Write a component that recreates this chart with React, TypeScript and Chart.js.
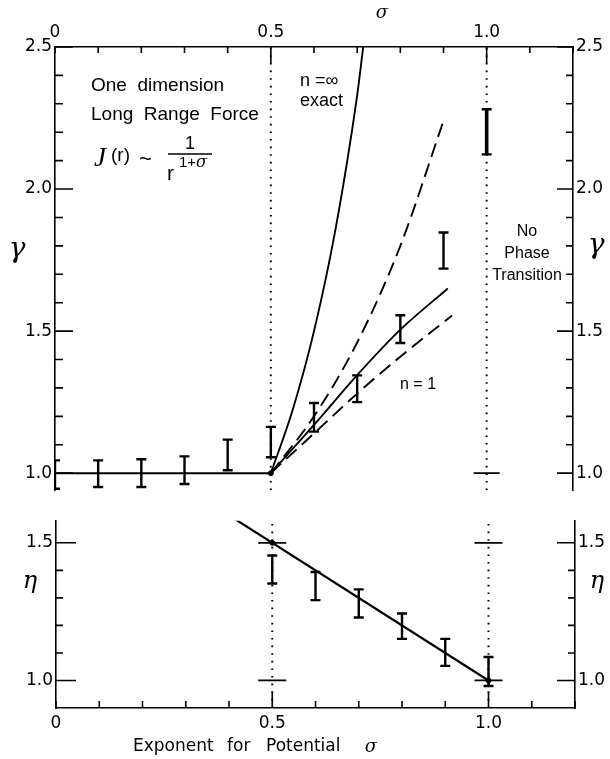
import React, { useEffect, useRef } from 'react';
import { Chart, registerables } from 'chart.js';

Chart.register(...registerables);

// ---------- axis ticks ----------
const SIGMA_TICKS = [0, 0.1, 0.2, 0.3, 0.4, 0.5, 0.6, 0.7, 0.8, 0.9, 1.0, 1.1, 1.2];
const SIGMA_LABELED = [0, 0.5, 1.0];
const GAMMA_TICKS = [1.0, 1.1, 1.2, 1.3, 1.4, 1.5, 1.6, 1.7, 1.8, 1.9, 2.0, 2.1, 2.2, 2.3, 2.4, 2.5];
const GAMMA_LABELED = [1.0, 1.5, 2.0, 2.5];
const ETA_TICKS = [1.0, 1.1, 1.2, 1.3, 1.4, 1.5];
const ETA_LABELED = [1.0, 1.5];
const GAMMA_RANGE = [0.94, 2.5];
const ETA_RANGE = [0.9, 1.58];
const SIGMA_RANGE = [0, 1.2];

// ---------- gamma panel data ----------
const gammaSigma = [0, 0.1, 0.2, 0.3, 0.4, 0.5, 0.6, 0.7, 0.8, 0.9, 1.0];
const gammaLow = [0.945, 0.951, 0.951, 0.962, 1.01, 1.056, 1.146, 1.25, 1.458, 1.72, 2.122];
const gammaHigh = [1.045, 1.045, 1.049, 1.059, 1.118, 1.163, 1.247, 1.344, 1.556, 1.847, 2.281];

const flatSigma = [0, 0.5];
const flatGamma = [1.0, 1.0];
const exactSigma = [0.5, 0.55, 0.6, 0.65, 0.7, 0.714];
const exactGamma = [1.0, 1.22, 1.5, 1.86, 2.33, 2.5];
const upperDashSigma = [0.5, 0.6, 0.7, 0.8, 0.9];
const upperDashGamma = [1.0, 1.2, 1.46, 1.8, 2.24];
const midSigma = [0.5, 0.6, 0.7, 0.8, 0.91];
const midGamma = [1.0, 1.17, 1.345, 1.505, 1.65];
const lowDashSigma = [0.5, 0.6, 0.7, 0.8, 0.92];
const lowDashGamma = [1.0, 1.14, 1.28, 1.41, 1.555];

const gammaCrossSigma = [1.0];
const gammaCrossVal = [1.0];
const gammaDotSigma = [0.5];
const gammaDotVal = [1.0];

// ---------- eta panel data ----------
const etaSigma = [0.5, 0.6, 0.7, 0.8, 0.9, 1.0];
const etaLow = [1.352, 1.292, 1.229, 1.151, 1.053, 0.98];
const etaHigh = [1.454, 1.394, 1.331, 1.243, 1.151, 1.085];
const etaLineSigma = [0.397, 1.0];
const etaLineVal = [1.603, 1.0];
const etaCrossSigma = [0.5, 0.5, 1.0, 1.0];
const etaCrossVal = [1.5, 1.0, 1.5, 1.0];
const etaDotSigma = [0.5, 1.0];
const etaDotVal = [1.5, 1.0];

const transitionSigma = [0.5, 1.0];

const BLACK = '#000';
const tickFont = { family: '"DejaVu Sans"', size: 17 };

const zip = (xs: number[], ys: number[]) => xs.map((x, i) => ({ x, y: ys[i] }));
const near = (a: number, list: number[]) => list.some((b) => Math.abs(a - b) < 1e-6);

function lineSet(xs: number[], ys: number[], width: number, dash: number[] = [], yAxisID = 'y') {
  return {
    data: zip(xs, ys),
    showLine: true,
    borderColor: BLACK,
    borderWidth: width,
    borderDash: dash,
    pointRadius: 0,
    cubicInterpolationMode: 'monotone',
    yAxisID,
  };
}

function errorBars(xs: number[], lo: number[], hi: number[], thickAt: number[] = []) {
  return xs.map((s, i) => {
    const w = near(s, thickAt) ? 3.6 : 2.4;
    return {
      data: [{ x: s, y: lo[i] }, { x: s, y: hi[i] }],
      showLine: true,
      borderColor: BLACK,
      borderWidth: w,
      pointStyle: 'line',
      pointRadius: 5,
      pointBorderWidth: 2.4,
      pointBorderColor: BLACK,
      yAxisID: 'y',
    };
  });
}

function markSet(xs: number[], ys: number[], style: string, radius: number, width: number) {
  return {
    data: zip(xs, ys),
    showLine: false,
    pointStyle: style,
    pointRadius: radius,
    pointBorderWidth: width,
    pointBorderColor: BLACK,
    pointBackgroundColor: BLACK,
    yAxisID: 'y',
  };
}

function dottedVerticals(xs: number[], range: number[]) {
  return xs.map((s) => ({
    data: [{ x: s, y: range[0] }, { x: s, y: range[1] }],
    showLine: true,
    borderColor: BLACK,
    borderWidth: 2,
    borderDash: [1.6, 6],
    pointRadius: 0,
    yAxisID: 'y',
  }));
}

// plugin: inward ticks + free text
const decorPlugin = {
  id: 'decor',
  afterDraw(chart: any, _args: any, opts: any) {
    const ctx = chart.ctx as CanvasRenderingContext2D;
    const { left, right, top, bottom } = chart.chartArea;
    const xs = chart.scales.x;
    const yl = chart.scales.y;
    ctx.save();
    ctx.strokeStyle = BLACK;
    ctx.lineWidth = 1.6;
    ctx.beginPath();
    for (const v of opts.xTicks) {
      const px = xs.getPixelForValue(v);
      const len = near(v, opts.xMajor) ? opts.xMajorLen : opts.xMinorLen;
      if (opts.xSide === 'top') {
        ctx.moveTo(px, top);
        ctx.lineTo(px, top + len);
      } else {
        ctx.moveTo(px, bottom);
        ctx.lineTo(px, bottom - len);
      }
    }
    for (const v of opts.yTicks) {
      const py = yl.getPixelForValue(v);
      const major = near(v, opts.yMajor);
      const ll = major ? opts.yMajorLenL : opts.yMinorLenL;
      const lr = major ? opts.yMajorLenR : opts.yMinorLenR;
      ctx.moveTo(left, py);
      ctx.lineTo(left + ll, py);
      ctx.moveTo(right, py);
      ctx.lineTo(right - lr, py);
    }
    ctx.stroke();
    ctx.fillStyle = BLACK;
    ctx.textBaseline = 'middle';
    for (const t of opts.texts) {
      ctx.font = t.font;
      ctx.textAlign = t.align || 'left';
      ctx.fillText(t.text, t.x, t.y);
    }
    if (opts.lines) {
      ctx.lineWidth = 1.6;
      ctx.beginPath();
      for (const l of opts.lines) {
        ctx.moveTo(l[0], l[1]);
        ctx.lineTo(l[2], l[3]);
      }
      ctx.stroke();
    }
    ctx.restore();
  },
};

function yScale(position: string, range: number[], labeled: number[], width: number) {
  return {
    type: 'linear',
    axis: 'y',
    position,
    min: range[0],
    max: range[1],
    afterBuildTicks: (s: any) => {
      s.ticks = labeled.map((v) => ({ value: v }));
    },
    afterFit: (s: any) => {
      s.width = width;
    },
    ticks: {
      callback: (v: number) => v.toFixed(1),
      font: tickFont,
      color: BLACK,
      padding: 3,
      autoSkip: false,
    },
    grid: { display: false, drawTicks: false },
    border: { display: true, color: BLACK, width: 1.6 },
  };
}

function xScale(position: string, height: number, padding: number) {
  return {
    type: 'linear',
    position,
    min: SIGMA_RANGE[0],
    max: SIGMA_RANGE[1],
    afterBuildTicks: (s: any) => {
      s.ticks = SIGMA_LABELED.map((v) => ({ value: v }));
    },
    afterFit: (s: any) => {
      s.height = height;
    },
    ticks: {
      callback: (v: number) => (v === 0 ? '0' : v.toFixed(1)),
      font: tickFont,
      color: BLACK,
      padding,
      maxRotation: 0,
      autoSkip: false,
    },
    grid: { display: false, drawTicks: false },
    border: { display: true, color: BLACK, width: 1.6 },
  };
}

const sans = (n: number) => `${n}px "Liberation Sans"`;
const greek = (n: number) => `italic ${n}px "DejaVu Serif"`;
const dsans = (n: number) => `${n}px "DejaVu Sans"`;

export default function App() {
  const topRef = useRef<HTMLCanvasElement>(null);
  const botRef = useRef<HTMLCanvasElement>(null);

  useEffect(() => {
    const topChart = new Chart(topRef.current as HTMLCanvasElement, {
      type: 'scatter',
      data: {
        datasets: [
          ...dottedVerticals(transitionSigma, GAMMA_RANGE),
          lineSet(flatSigma, flatGamma, 2),
          lineSet(exactSigma, exactGamma, 1.9),
          lineSet(upperDashSigma, upperDashGamma, 1.9, [14, 7]),
          lineSet(midSigma, midGamma, 1.9),
          lineSet(lowDashSigma, lowDashGamma, 1.9, [14, 7]),
          ...errorBars(gammaSigma, gammaLow, gammaHigh, [1.0]),
          markSet(gammaCrossSigma, gammaCrossVal, 'line', 13, 1.8),
          markSet(gammaDotSigma, gammaDotVal, 'circle', 2.5, 1),
        ] as any,
      },
      options: {
        animation: false,
        responsive: false,
        events: [],
        layout: { padding: { top: 0, bottom: 8, left: 0, right: 0 } },
        plugins: {
          legend: { display: false },
          tooltip: { enabled: false },
          decor: {
            xSide: 'top',
            xTicks: SIGMA_TICKS,
            xMajor: [0.5, 1.0],
            xMajorLen: 16,
            xMinorLen: 6,
            yTicks: GAMMA_TICKS,
            yMajor: GAMMA_LABELED,
            yMajorLenL: 18,
            yMinorLenL: 8,
            yMajorLenR: 16,
            yMinorLenR: 7,
            texts: [
              { text: 'One  dimension', x: 91, y: 86, font: sans(19) },
              { text: 'Long  Range  Force', x: 91, y: 115, font: sans(19) },
              { text: 'J', x: 94, y: 159, font: 'italic 27px "Liberation Serif"' },
              { text: '(r)', x: 111, y: 156, font: sans(19) },
              { text: '~', x: 139, y: 160, font: sans(22) },
              { text: '1', x: 190, y: 144, font: sans(18), align: 'center' },
              { text: 'r', x: 167, y: 174, font: sans(21) },
              { text: '1+', x: 179, y: 163, font: sans(15) },
              { text: 'σ', x: 196, y: 163, font: greek(16) },
              { text: 'n =∞', x: 300, y: 81, font: sans(18) },
              { text: 'exact', x: 300, y: 101, font: sans(18) },
              { text: 'No', x: 527, y: 232, font: sans(16), align: 'center' },
              { text: 'Phase', x: 527, y: 254, font: sans(16), align: 'center' },
              { text: 'Transition', x: 527, y: 276, font: sans(16), align: 'center' },
              { text: 'n = 1', x: 400, y: 385, font: sans(16) },
              { text: 'γ', x: 17, y: 250, font: greek(28), align: 'center' },
              { text: 'γ', x: 596, y: 246, font: greek(28), align: 'center' },
              { text: 'σ', x: 382, y: 13, font: greek(18), align: 'center' },
            ],
            lines: [[168, 154, 212, 154]],
          },
        } as any,
        scales: {
          x: xScale('top', 47, 4),
          y: yScale('left', GAMMA_RANGE, GAMMA_LABELED, 55),
          y2: yScale('right', GAMMA_RANGE, GAMMA_LABELED, 37),
        } as any,
      },
      plugins: [decorPlugin],
    });

    const botChart = new Chart(botRef.current as HTMLCanvasElement, {
      type: 'scatter',
      data: {
        datasets: [
          ...dottedVerticals(transitionSigma, ETA_RANGE),
          lineSet(etaLineSigma, etaLineVal, 2.2),
          ...errorBars(etaSigma, etaLow, etaHigh),
          markSet(etaCrossSigma, etaCrossVal, 'line', 14, 1.8),
          markSet(etaDotSigma, etaDotVal, 'circle', 2.5, 1),
        ] as any,
      },
      options: {
        animation: false,
        responsive: false,
        events: [],
        layout: { padding: { top: 10, bottom: 0, left: 0, right: 0 } },
        plugins: {
          legend: { display: false },
          tooltip: { enabled: false },
          decor: {
            xSide: 'bottom',
            xTicks: SIGMA_TICKS,
            xMajor: [0.5, 1.0],
            xMajorLen: 16,
            xMinorLen: 7,
            yTicks: ETA_TICKS,
            yMajor: ETA_LABELED,
            yMajorLenL: 20,
            yMinorLenL: 7,
            yMajorLenR: 18,
            yMinorLenR: 7,
            texts: [
              { text: 'η', x: 30, y: 77, font: greek(24), align: 'center' },
              { text: 'η', x: 597, y: 77, font: greek(24), align: 'center' },
              { text: 'Exponent', x: 133, y: 242, font: dsans(17) },
              { text: 'for', x: 227, y: 242, font: dsans(17) },
              { text: 'Potential', x: 266, y: 242, font: dsans(17) },
              { text: 'σ', x: 371, y: 242, font: greek(18), align: 'center' },
            ],
          },
        } as any,
        scales: {
          x: xScale('bottom', 51, 5),
          y: yScale('left', ETA_RANGE, ETA_LABELED, 56),
          y2: yScale('right', ETA_RANGE, ETA_LABELED, 35),
        } as any,
      },
      plugins: [decorPlugin],
    });

    return () => {
      topChart.destroy();
      botChart.destroy();
    };
  }, []);

  return (
    <div style={{ position: 'fixed', left: 0, top: 0, width: 610, height: 759, background: '#fff' }}>
      <canvas
        ref={topRef}
        width={610}
        height={505}
        style={{ position: 'absolute', left: 0, top: 0, width: 610, height: 505 }}
      />
      <canvas
        ref={botRef}
        width={610}
        height={254}
        style={{ position: 'absolute', left: 0, top: 505, width: 610, height: 254 }}
      />
    </div>
  );
}
